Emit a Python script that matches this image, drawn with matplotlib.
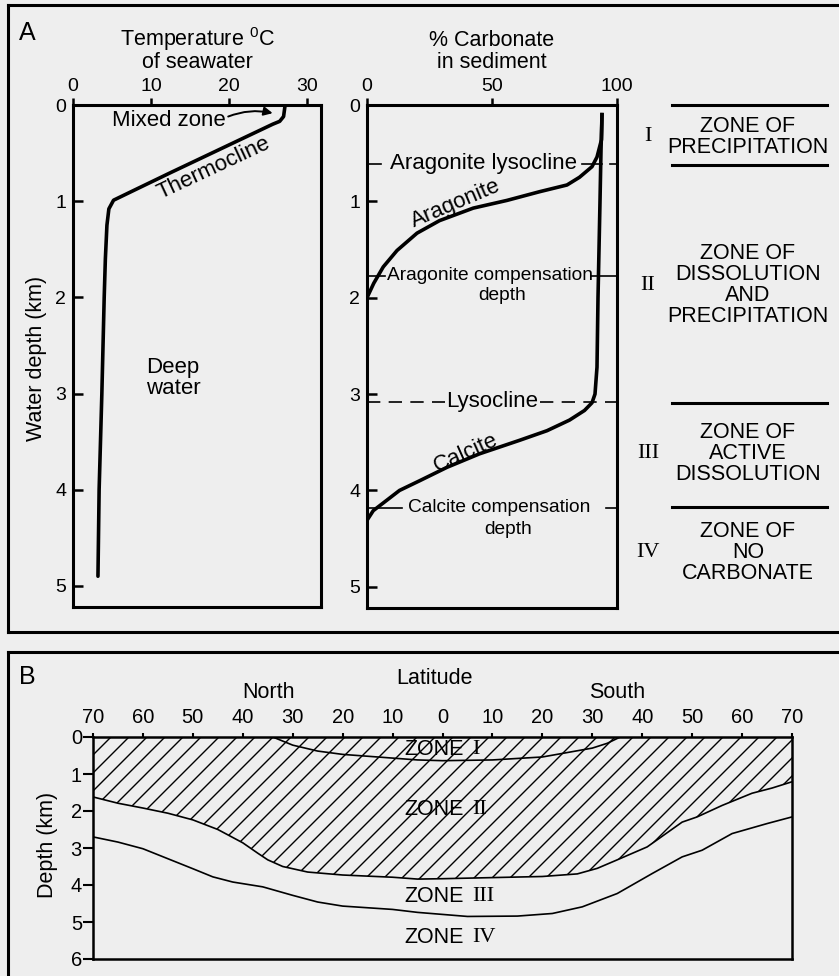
import numpy as np
import matplotlib.pyplot as plt
from matplotlib.lines import Line2D
from matplotlib.transforms import IdentityTransform

plt.rcParams['font.family'] = ['Liberation Sans', 'DejaVu Sans']
plt.rcParams['mathtext.fontset'] = 'custom'
plt.rcParams['mathtext.rm'] = 'Liberation Sans'

# ---- Panel A, left: temperature profile
temp_depth = [0, 0.12, 0.17, 0.2, 0.45, 0.7, 0.88, 0.99, 1.08, 1.25, 1.6, 2.0, 3.0, 4.0, 4.9]
temp_c = [27.2, 27.0, 26.5, 25.6, 19.1, 12.6, 8.0, 5.2, 4.6, 4.35, 4.15, 4.0, 3.7, 3.35, 3.2]
temp_ticks = [0, 10, 20, 30]
depth_ticks_a = [0, 1, 2, 3, 4, 5]

# ---- Panel A, middle: % carbonate in sediment
calcite_depth = [0.10, 0.47, 1.0, 2.0, 2.72, 3.0, 3.09, 3.17, 3.27, 3.38, 3.48, 3.62,
                 3.76, 3.9, 4.0, 4.1, 4.21, 4.31]
calcite_pct = [94, 93.6, 93.2, 92.4, 92, 91.2, 90, 87, 81, 72, 61, 45, 32, 21, 13, 8, 2.5, 0]
aragonite_depth = [0.10, 0.36, 0.54, 0.64, 0.75, 0.83, 0.9, 0.99, 1.07, 1.2, 1.33, 1.51,
                   1.68, 1.85, 2.0]
aragonite_pct = [94, 93.8, 92, 90, 85, 80, 69, 56, 42.5, 29, 20, 12, 6.5, 2.7, 0]
carb_ticks = [0, 50, 100]

arag_lysocline = 0.61
arag_ccd = 1.77
lysocline = 3.08
calcite_ccd = 4.18

# ---- Panel A, right: zones
zone_lines = [0, 0.62, 3.09, 4.17]
zone_numerals = ["I", "II", "III", "IV"]
zone_names = ["ZONE OF\nPRECIPITATION",
              "ZONE OF\nDISSOLUTION\nAND\nPRECIPITATION",
              "ZONE OF\nACTIVE\nDISSOLUTION",
              "ZONE OF\nNO\nCARBONATE"]
zone_centers = [0.33, 1.87, 3.62, 4.64]

# ---- Panel B: zones vs latitude (north negative)
zone1_lat = [-34, -30, -25, -20, -10, -5, 0, 10, 20, 30, 33, 35.6]
zone1_depth = [0, 0.22, 0.38, 0.47, 0.57, 0.62, 0.64, 0.62, 0.54, 0.3, 0.17, 0]
zone2_lat = [-70, -65, -60, -55, -50, -45, -40, -37, -35, -32, -27, -20, -10, -5, 0,
             10, 20, 27, 31, 35, 41, 48, 51, 56, 62, 66, 70]
zone2_depth = [1.62, 1.79, 1.92, 2.06, 2.24, 2.5, 2.86, 3.14, 3.32, 3.5, 3.65, 3.73,
               3.79, 3.84, 3.83, 3.8, 3.77, 3.7, 3.55, 3.32, 2.97, 2.3, 2.16, 1.85,
               1.52, 1.38, 1.21]
zone3_lat = [-70, -65, -60, -55, -50, -46, -42, -36, -30, -25, -20, -10, -5, 5, 15, 22,
             28, 35, 42, 48, 52, 58, 65, 70]
zone3_depth = [2.7, 2.84, 3.02, 3.29, 3.56, 3.78, 3.92, 4.05, 4.28, 4.46, 4.57, 4.66,
               4.74, 4.85, 4.84, 4.77, 4.59, 4.23, 3.69, 3.24, 3.06, 2.61, 2.34, 2.16]
lat_ticks = list(range(-70, 71, 10))
depth_ticks_b = [0, 1, 2, 3, 4, 5, 6]
zoneb_names = ["I", "II", "III", "IV"]
zoneb_depth = [0.35, 1.97, 4.32, 5.43]

W, H = 839, 976
BG = '#eeeeee'


def box(x0, y0, x1, y1):
    return [x0 / W, 1 - y1 / H, (x1 - x0) / W, (y1 - y0) / H]


def fp(px, py):
    return px / W, 1 - py / H


fig = plt.figure(figsize=(W / 100, H / 100), dpi=100, facecolor=BG)

# outer frames
for xs, ys in [([8, W], [5, 5]), ([8, 8], [5, 632]), ([8, W], [632, 632]),
               ([8, W], [652, 652]), ([8, 8], [652, H])]:
    fig.add_artist(Line2D([x / W for x in xs], [1 - y / H for y in ys],
                          transform=fig.transFigure, color='black', lw=2.2))

fig.text(*fp(27, 33), "A", fontsize=18, ha='center', va='center')
fig.text(*fp(27, 677), "B", fontsize=18, ha='center', va='center')

# ---------------- temperature axes
ax1 = fig.add_axes(box(73, 105, 321, 607))
ax1.set_facecolor('none')
ax1.plot(temp_c, temp_depth, color='black', lw=2.6, solid_capstyle='round')
ax1.set_xlim(0, 31.8)
ax1.set_ylim(5.22, 0)
ax1.xaxis.tick_top()
ax1.set_xticks(temp_ticks)
ax1.set_yticks(depth_ticks_a)
ax1.tick_params(axis='x', direction='out', length=5, width=1.8, pad=2, labelsize=14)
ax1.tick_params(axis='y', direction='in', length=7, width=1.8, pad=5, labelsize=14)
for s in ax1.spines.values():
    s.set_linewidth(2.2)
fig.text(*fp(197, 39), r"Temperature $^{\mathregular{0}}$C", fontsize=15.5, ha='center', va='center')
fig.text(*fp(197, 62), "of seawater", fontsize=15.5, ha='center', va='center')
fig.text(*fp(37, 358), "Water depth (km)", fontsize=15.5, rotation=90, ha='center', va='center')

ax1.text(19.6, 0.16, "Mixed zone", fontsize=16, ha='right', va='center')
ax1.annotate("", xy=(25.6, 0.085), xytext=(19.9, 0.12),
             arrowprops=dict(arrowstyle='-|>', color='black', lw=1.4, mutation_scale=13,
                             connectionstyle='arc3,rad=-0.15', shrinkA=0, shrinkB=0))
ax1.text(18.1, 0.655, "Thermocline", fontsize=16, rotation=25, rotation_mode='anchor',
         ha='center', va='center')
ax1.text(9.4, 2.84, "Deep\nwater", fontsize=16, ha='left', va='center', linespacing=1.0)

# ---------------- carbonate axes
ax2 = fig.add_axes(box(367, 105, 617, 608))
ax2.set_facecolor('none')
ax2.plot(calcite_pct, calcite_depth, color='black', lw=2.6)
ax2.plot(aragonite_pct, aragonite_depth, color='black', lw=2.6)
ax2.set_xlim(0, 100)
ax2.set_ylim(5.22, 0)
ax2.xaxis.tick_top()
ax2.set_xticks(carb_ticks)
ax2.set_yticks(depth_ticks_a)
ax2.tick_params(axis='x', direction='out', length=5, width=1.8, pad=2, labelsize=14)
ax2.tick_params(axis='y', direction='in', length=7, width=1.8, pad=5, labelsize=14)
for s in ax2.spines.values():
    s.set_linewidth(2.2)
fig.text(*fp(492, 40), "% Carbonate", fontsize=15.5, ha='center', va='center')
fig.text(*fp(492, 62), "in sediment", fontsize=15.5, ha='center', va='center')

lab = dict(fontsize=16, va='center')
lab_c = dict(fontsize=13.8, va='center')
seg = dict(color='black', lw=1.2, clip_on=False)
ax2.plot([0, 5.5], [arag_lysocline] * 2, **seg)
ax2.plot([86, 94], [arag_lysocline] * 2, **seg)
ax2.plot([97, 100], [arag_lysocline] * 2, **seg)
ax2.text(9.2, arag_lysocline, "Aragonite lysocline", ha='left', **lab)

ax2.plot([0, 7], [arag_ccd] * 2, **seg)
ax2.plot([89.5, 100], [arag_ccd] * 2, **seg)
ax2.text(8.0, arag_ccd, "Aragonite compensation", ha='left', **lab_c)
ax2.text(54, 1.975, "depth", ha='center', **lab_c)

ax2.plot([0, 31], [lysocline] * 2, ls=(0, (8, 5)), **seg)
ax2.plot([69, 100], [lysocline] * 2, ls=(0, (8, 5)), **seg)
ax2.text(50, lysocline, "Lysocline", ha='center', **lab)

ax2.plot([0, 14], [calcite_ccd] * 2, **seg)
ax2.plot([95.5, 100], [calcite_ccd] * 2, **seg)
ax2.text(16.2, calcite_ccd, "Calcite compensation", ha='left', **lab_c)
ax2.text(56.4, 4.41, "depth", ha='center', **lab_c)

ax2.text(35.6, 1.02, "Aragonite", fontsize=16, rotation=23, rotation_mode='anchor',
         ha='center', va='center')
ax2.text(39.6, 3.61, "Calcite", fontsize=16, rotation=24, rotation_mode='anchor',
         ha='center', va='center')

# zone column at the right
tr = ax2.get_yaxis_transform()
for d in zone_lines:
    ax2.plot([1.22, 1.84], [d, d], transform=tr, color='black', lw=2.2, clip_on=False)
for num, name, c in zip(zone_numerals, zone_names, zone_centers):
    ax2.text(1.124, c, num, transform=tr, fontsize=16, family='Liberation Serif',
             ha='center', va='center')
    ax2.text(1.524, c, name, transform=tr, fontsize=15.5, ha='center', va='center',
             linespacing=1.0)

# ---------------- panel B
ax3 = fig.add_axes(box(93, 737, 792, 959))
ax3.set_facecolor('none')
poly = ax3.fill_between(zone2_lat, 0, zone2_depth, facecolor='none', lw=0)
ax3.plot(zone1_lat, zone1_depth, color='black', lw=1.2)
ax3.plot(zone2_lat, zone2_depth, color='black', lw=1.2)
ax3.plot(zone3_lat, zone3_depth, color='black', lw=1.2)
ax3.set_xlim(-70, 70)
ax3.set_ylim(6, 0)

# diagonal hatching of zones I-II, 45 deg, ~18 px apart
bb = ax3.bbox
hh = bb.height
clip = (poly.get_paths()[0], ax3.transData)
for off in np.arange(-hh, bb.width + 18, 18):
    hl = Line2D([bb.x0 + off, bb.x0 + off + hh], [bb.y0, bb.y0 + hh],
                transform=IdentityTransform(), color='black', lw=1.0)
    hl.set_clip_path(*clip)
    ax3.add_artist(hl)

ax3.xaxis.tick_top()
ax3.set_xticks(lat_ticks)
ax3.set_xticklabels([str(abs(v)) for v in lat_ticks])
ax3.set_yticks(depth_ticks_b)
ax3.tick_params(axis='x', direction='out', length=3, width=1.5, pad=4, labelsize=14.5)
ax3.tick_params(axis='y', direction='out', length=7, width=1.5, pad=1, labelsize=14.5)
for s in ax3.spines.values():
    s.set_linewidth(1.8)
fig.text(*fp(434, 678), "Latitude", fontsize=15.5, ha='center', va='center')
fig.text(*fp(269, 693), "North", fontsize=15.5, ha='center', va='center')
fig.text(*fp(617, 693), "South", fontsize=15.5, ha='center', va='center')
fig.text(*fp(48, 845), "Depth (km)", fontsize=15.5, rotation=90, ha='center', va='center')

for num, d in zip(zoneb_names, zoneb_depth):
    ax3.text(-7.6, d, "ZONE", fontsize=15.5, ha='left', va='center')
    ax3.text(6.0, d, num, fontsize=16, family='Liberation Serif', ha='left', va='center')

fig.savefig("out.png", dpi=100, facecolor=BG)
